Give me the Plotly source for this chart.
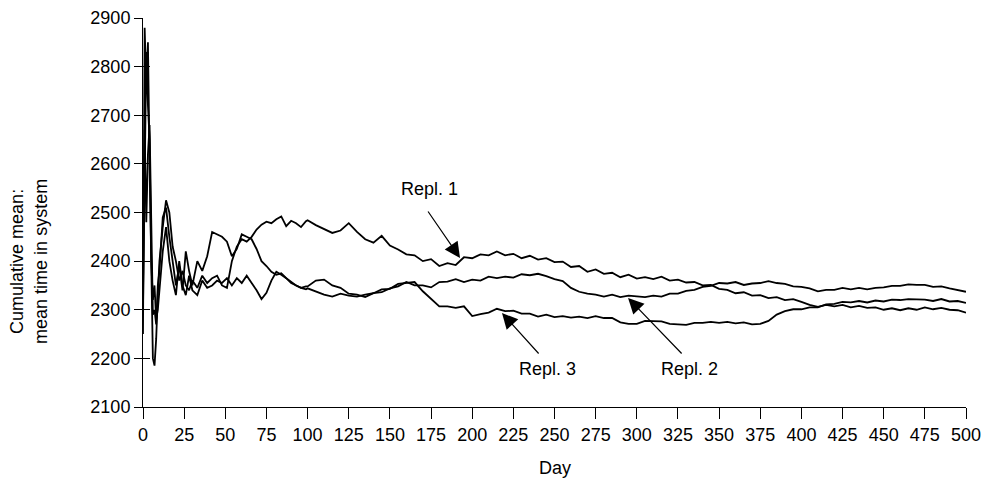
import plotly.graph_objects as go

days = (list(range(0, 11)) + list(range(12, 31, 2)) +
        list(range(33, 100, 3)) + list(range(100, 501, 5)))

repl1 = [
    2250, 2880, 2760, 2850, 2600, 2350, 2200, 2185, 2240, 2330, 2400,
    2470, 2525, 2500, 2430, 2400, 2360, 2380, 2350, 2340, 2360,
    2345, 2370, 2355, 2365, 2370, 2350, 2345, 2400, 2430, 2445, 2440, 2450,
    2465, 2475, 2481, 2478, 2486, 2492, 2472, 2483, 2478, 2470, 2482,
    2484, 2474, 2466, 2458, 2463, 2478, 2460, 2445, 2438, 2452, 2432, 2424,
    2414, 2412, 2400, 2404, 2390, 2396, 2392, 2408, 2406, 2414, 2412, 2420,
    2412, 2415, 2406, 2411, 2403, 2406, 2398, 2399, 2388, 2390, 2378, 2383,
    2374, 2376, 2367, 2372, 2364, 2367, 2363, 2368, 2360, 2362, 2356, 2357,
    2350, 2351, 2343, 2341, 2334, 2336, 2329, 2330, 2324, 2326, 2320, 2322,
    2316, 2310, 2306, 2310, 2307, 2310, 2305, 2308, 2304, 2305, 2300, 2303,
    2299, 2303, 2300, 2305, 2301, 2304, 2300, 2299, 2294,
]

repl2 = [
    2300, 2520, 2830, 2720, 2650, 2400, 2320, 2350, 2280, 2300, 2340,
    2420, 2470, 2400, 2360, 2330, 2400, 2350, 2330, 2370, 2340,
    2330, 2360, 2345, 2350, 2360, 2355, 2365, 2350, 2365, 2355, 2370, 2355,
    2340, 2322, 2335, 2360, 2378, 2372, 2365, 2355, 2350, 2345, 2348,
    2348, 2360, 2362, 2350, 2345, 2333, 2331, 2326, 2334, 2336, 2344, 2348,
    2357, 2350, 2350, 2346, 2357, 2358, 2363, 2357, 2362, 2360, 2368, 2365,
    2368, 2366, 2373, 2371, 2374, 2369, 2363, 2359, 2345, 2337, 2333, 2331,
    2327, 2331, 2326, 2329, 2327, 2326, 2329, 2327, 2333, 2333, 2339, 2341,
    2347, 2349, 2355, 2354, 2357, 2351, 2354, 2355, 2359, 2355, 2353, 2348,
    2347, 2344, 2338, 2341, 2341, 2345, 2342, 2345, 2342, 2345, 2346, 2349,
    2349, 2352, 2351, 2351, 2347, 2348, 2344, 2341, 2337,
]

repl3 = [
    2330, 2670, 2480, 2620, 2680, 2450, 2290, 2300, 2270, 2350, 2380,
    2490, 2510, 2450, 2400, 2350, 2390, 2340, 2420, 2380, 2350,
    2400, 2380, 2410, 2460, 2455, 2450, 2440, 2410, 2425, 2455, 2450, 2445,
    2425, 2400, 2390, 2378, 2372, 2375, 2365, 2358, 2350, 2345, 2342,
    2344, 2338, 2331, 2327, 2333, 2329, 2327, 2331, 2334, 2342, 2343, 2353,
    2355, 2357, 2338, 2322, 2307, 2307, 2304, 2307, 2287, 2291, 2294, 2302,
    2297, 2298, 2292, 2292, 2286, 2290, 2285, 2287, 2284, 2286, 2283, 2287,
    2283, 2283, 2274, 2271, 2271, 2277, 2277, 2276, 2271, 2270, 2269, 2273,
    2273, 2275, 2273, 2275, 2272, 2274, 2270, 2271, 2277, 2290, 2297, 2301,
    2301, 2305, 2305, 2311, 2312, 2316, 2315, 2318, 2315, 2319, 2317, 2321,
    2320, 2322, 2321, 2321, 2318, 2322, 2317, 2318, 2314,
]

x_ticks = list(range(0, 501, 25))
y_ticks = list(range(2100, 2901, 100))

FONT = "Liberation Sans, Arial, Helvetica, sans-serif"

fig = go.Figure()
for name, vals in [("Repl. 1", repl1), ("Repl. 2", repl2), ("Repl. 3", repl3)]:
    fig.add_trace(go.Scatter(x=days, y=vals, mode="lines", name=name,
                             line=dict(color="black", width=1.8),
                             showlegend=False))
# empty trace so the overlay axis (inner tick halves) is drawn
fig.add_trace(go.Scatter(x=[], y=[], yaxis="y2", showlegend=False))

# the page body has an 8px margin, so the figure is sized/offset to fit
fig.update_layout(
    template="none",
    width=982, height=473,
    margin=dict(l=135, r=24, t=10, b=74, autoexpand=False),
    paper_bgcolor="white", plot_bgcolor="white",
    font=dict(family=FONT, size=18, color="black"),
    xaxis=dict(range=[0, 500], tickvals=x_ticks, ticks="outside", ticklen=11,
               tickcolor="black", tickwidth=1, showline=True, linecolor="black",
               linewidth=1, showgrid=False, zeroline=False, automargin=False,
               tickfont=dict(size=18)),
    yaxis=dict(range=[2100, 2900], tickvals=y_ticks, ticks="outside", ticklen=8,
               tickcolor="black", tickwidth=1, showline=True, linecolor="black",
               linewidth=1, showgrid=False, zeroline=False, automargin=False,
               tickfont=dict(size=18)),
    yaxis2=dict(range=[2100, 2900], tickvals=y_ticks, ticks="inside", ticklen=7,
                tickcolor="black", tickwidth=1, overlaying="y", side="left",
                showline=False, showgrid=False, zeroline=False, automargin=False,
                showticklabels=False),
)

annos = [
    # axis titles
    dict(text="Cumulative mean:<br>mean time in system", xref="paper", yref="paper",
         x=-0.1385, y=0.373, textangle=-90, showarrow=False,
         xanchor="center", yanchor="middle", font=dict(size=18)),
    dict(text="Day", xref="paper", yref="paper", x=0.5, y=-0.157,
         showarrow=False, xanchor="center", yanchor="middle", font=dict(size=18)),
    # labels
    dict(text="Repl. 1", x=174.3, y=2549, xref="x", yref="y", showarrow=False,
         font=dict(size=18)),
    dict(text="Repl. 3", x=246, y=2178, xref="x", yref="y", showarrow=False,
         font=dict(size=18)),
    dict(text="Repl. 2", x=332.3, y=2178, xref="x", yref="y", showarrow=False,
         font=dict(size=18)),
]
# arrows: head in data coords, tail as pixel offset
arrows = [
    (192.6, 2406.4, -33, -48),
    (218.1, 2293.3, 38, 42),
    (294.7, 2324.2, 55, 57),
]
for hx, hy, ax, ay in arrows:
    annos.append(dict(text="", x=hx, y=hy, xref="x", yref="y", ax=ax, ay=ay,
                      showarrow=True, arrowhead=2, arrowsize=2.6, arrowwidth=1.2,
                      arrowcolor="black"))
fig.update_layout(annotations=annos)

fig.write_html("out.html")
